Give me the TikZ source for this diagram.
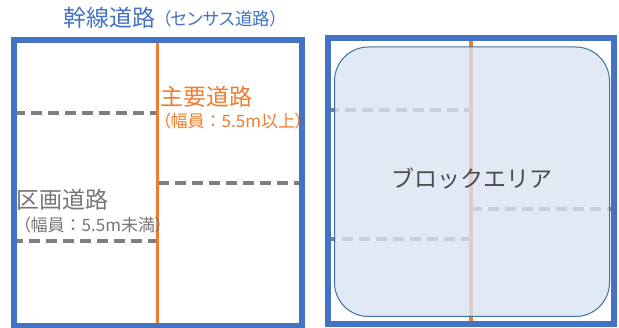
\documentclass[tikz,border=0pt]{standalone}
\usepackage{fontspec}
\setmainfont{Noto Sans CJK JP}
\newfontfamily\propjp[RawFeature=+palt]{Noto Sans CJK JP}
\newcommand{\lpar}{{\propjp （}}
\newcommand{\rpar}{{\propjp ）}}
\definecolor{blu}{HTML}{4472C4}
\definecolor{ora}{HTML}{ED7D31}
\definecolor{gry}{HTML}{7F7F7F}
\definecolor{txtgry}{HTML}{767676}
\definecolor{areafill}{HTML}{DAE3F3}
\definecolor{arealine}{HTML}{41719C}
\tikzset{
  frame/.style={draw=blu, line width=6pt},
  mainroad/.style={draw=ora, line width=3.5pt},
  subroad/.style={draw=gry, line width=4pt, dash pattern=on 11pt off 6pt},
  big/.style={inner sep=0pt, anchor=west, font=\fontsize{23}{27}\selectfont},
  small/.style={inner sep=0pt, anchor=west, font=\fontsize{17}{20}\selectfont},
  smallp/.style={inner sep=0pt, anchor=west, font=\propjp\fontsize{17.5}{20}\selectfont},
}
\begin{document}
\begin{tikzpicture}[x=1pt,y=-1pt]
\useasboundingbox (0,0) rectangle (619,328);
% ---------- left panel ----------
\draw[subroad] (14,113) -- (157,113);
\draw[subroad] (158,183.5) -- (302,183.5);
\draw[subroad] (12,241) -- (157,241);
\draw[mainroad] (157.5,40) -- (157.5,326);
\draw[frame] (14,40) rectangle (302,326);
\node[big, text=blu] (t1) at (63,18) {幹線道路};
\node[smallp, text=blu] (t1s) at (162,19) {（センサス道路）};
\node[big, text=ora] (t2) at (160,97) {主要道路};
\node[small, text=ora] (t2s) at (162,121) {\lpar 幅員：5.5m以上\rpar};
\node[big, text=txtgry] (t3) at (16,200) {区画道路};
\node[small, text=txtgry] (t3s) at (22,225) {\lpar 幅員：5.5m未満\rpar};
% ---------- right panel ----------
\draw[subroad] (328,110) -- (471,110);
\draw[subroad] (471,209) -- (614,209);
\draw[subroad] (325,239) -- (471,239);
\draw[mainroad] (471,38) -- (471,326);
\draw[arealine, line width=1pt, fill=areafill, fill opacity=0.8, rounded corners=34pt]
  (334.5,47) rectangle (609.5,316.5);
\draw[frame] (328,38) rectangle (614,324);
\node[inner sep=0pt, text=black!70, font=\fontsize{23}{27}\selectfont] (area) at (472,179) {ブロックエリア};
\end{tikzpicture}
\end{document}
